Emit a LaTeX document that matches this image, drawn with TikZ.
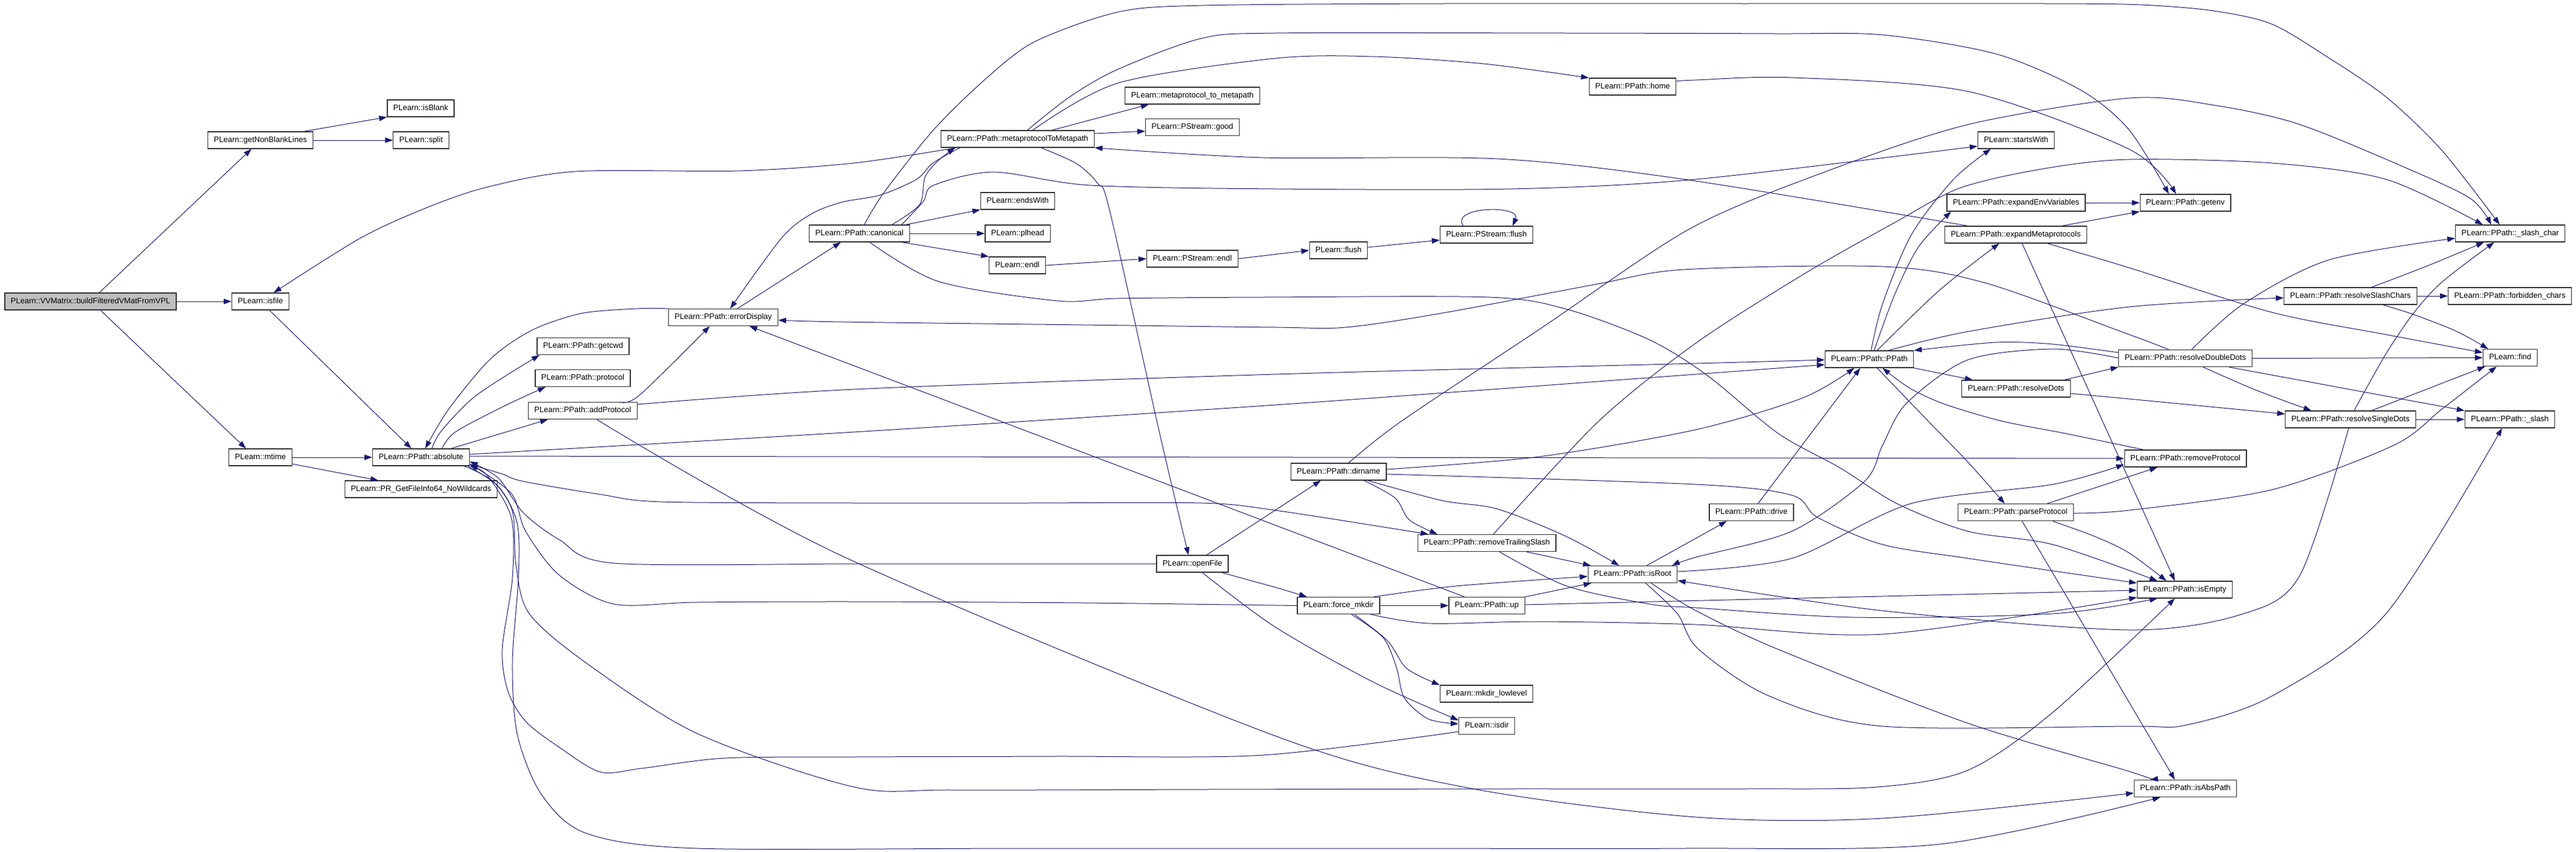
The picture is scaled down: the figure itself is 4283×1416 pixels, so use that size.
\documentclass[tikz,border=0pt]{standalone}
\usepackage{fontspec}
\setmainfont{Liberation Sans}
\usetikzlibrary{arrows.meta}
\definecolor{callblue}{HTML}{191970}
\definecolor{rootgray}{HTML}{BFBFBF}
\begin{document}
\begin{tikzpicture}[
    x=1pt, y=-1pt,
    fnbox/.style={
        draw=black!80, line width=1.2pt, fill=white,
        minimum height=28pt, inner xsep=10pt, inner ysep=0pt,
        text height=9.5pt, text depth=2.6pt,
        font=\fontsize{13}{15}\selectfont
    },
    rootbox/.style={fnbox, fill=rootgray},
    callarrow/.style={
        draw=callblue, line width=1pt,
        -{Triangle[length=13pt,width=9pt]}
    },
    curvy/.style={smooth, tension=0.5}
]
\useasboundingbox (0,0) rectangle (4283,1416);

\node[rootbox] (root) at (150.5,501) {PLearn::VVMatrix::buildFilteredVMatFromVPL};
\node[fnbox] (nonblank) at (433,233) {PLearn::getNonBlankLines};
\node[fnbox] (isblank) at (699.5,180) {PLearn::isBlank};
\node[fnbox] (split) at (700,233) {PLearn::split};
\node[fnbox] (isfile) at (433,501) {PLearn::isfile};
\node[fnbox] (mtime) at (433,760) {PLearn::mtime};
\node[fnbox] (absolute) at (700,760) {PLearn::PPath::absolute};
\node[fnbox] (fileinfo) at (700,813) {PLearn::PR\_GetFileInfo64\_NoWildcards};
\node[fnbox] (getcwd) at (969.5,575.5) {PLearn::PPath::getcwd};
\node[fnbox] (protocol) at (969,628.5) {PLearn::PPath::protocol};
\node[fnbox] (addprot) at (969,682.5) {PLearn::PPath::addProtocol};
\node[fnbox] (errdisp) at (1202.5,527.5) {PLearn::PPath::errorDisplay};
\node[fnbox] (canonical) at (1429,388) {PLearn::PPath::canonical};
\node[fnbox] (metatopath) at (1692,231) {PLearn::PPath::metaprotocolToMetapath};
\node[fnbox] (mptomp) at (1982.5,159) {PLearn::metaprotocol\_to\_metapath};
\node[fnbox] (good) at (1982.5,211.5) {PLearn::PStream::good};
\node[fnbox] (endswith) at (1692,334) {PLearn::endsWith};
\node[fnbox] (plhead) at (1692,388) {PLearn::plhead};
\node[fnbox] (endl) at (1691.5,441) {PLearn::endl};
\node[fnbox] (psendl) at (1982.5,430) {PLearn::PStream::endl};
\node[fnbox] (openfile) at (1982.5,937) {PLearn::openFile};
\node[fnbox] (home) at (2714.5,144) {PLearn::PPath::home};
\node[fnbox] (flush) at (2225.5,416) {PLearn::flush};
\node[fnbox] (psflush) at (2471.5,390) {PLearn::PStream::flush};
\node[fnbox] (dirname) at (2225.5,784) {PLearn::PPath::dirname};
\node[fnbox] (trailslash) at (2472,902.5) {PLearn::PPath::removeTrailingSlash};
\node[fnbox] (isroot) at (2714.5,954.5) {PLearn::PPath::isRoot};
\node[fnbox] (forcemkdir) at (2225.5,1006.5) {PLearn::force\_mkdir};
\node[fnbox] (up) at (2472,1006.5) {PLearn::PPath::up};
\node[fnbox] (mkdirll) at (2471.5,1153) {PLearn::mkdir\_lowlevel};
\node[fnbox] (isdir) at (2472,1206.5) {PLearn::isdir};
\node[fnbox] (startswith) at (3352,233) {PLearn::startsWith};
\node[fnbox] (expenv) at (3352,337) {PLearn::PPath::expandEnvVariables};
\node[fnbox] (expmeta) at (3351.5,390) {PLearn::PPath::expandMetaprotocols};
\node[fnbox] (ppath) at (3108,597) {PLearn::PPath::PPath};
\node[fnbox] (resdots) at (3352,646) {PLearn::PPath::resolveDots};
\node[fnbox] (drive) at (2912,851.5) {PLearn::PPath::drive};
\node[fnbox] (parseprot) at (3351.5,851.5) {PLearn::PPath::parseProtocol};
\node[fnbox] (remprot) at (3633.5,762) {PLearn::PPath::removeProtocol};
\node[fnbox] (getenv) at (3633.5,337) {PLearn::PPath::getenv};
\node[fnbox] (slashchar) at (4173.5,388) {PLearn::PPath::\_slash\_char};
\node[fnbox] (resslash) at (3908,492) {PLearn::PPath::resolveSlashChars};
\node[fnbox] (forbidden) at (4173,492) {PLearn::PPath::forbidden\_chars};
\node[fnbox] (resdd) at (3633.5,595.5) {PLearn::PPath::resolveDoubleDots};
\node[fnbox] (find) at (4173.5,594.5) {PLearn::find};
\node[fnbox] (ressd) at (3908,697) {PLearn::PPath::resolveSingleDots};
\node[fnbox] (slash) at (4173,697) {PLearn::PPath::\_slash};
\node[fnbox] (isempty) at (3632.5,980) {PLearn::PPath::isEmpty};
\node[fnbox] (isabs) at (3633.5,1310.5) {PLearn::PPath::isAbsPath};

\draw[callarrow] (165,0 |- root.north) -- (418,0 |- nonblank.south);
\draw[callarrow] (root.east) -- (isfile.west);
\draw[callarrow] (167,0 |- root.south) -- (409,0 |- mtime.north);
\draw[callarrow] (505,0 |- nonblank.north) -- (isblank.south west);
\draw[callarrow] (nonblank.east) -- (split.west);
\draw[callarrow] (448,0 |- isfile.south) -- (684,0 |- absolute.north);
\draw[callarrow] (mtime.east) -- (absolute.west);
\draw[callarrow] (mtime.east |- 0,771) -- (629,0 |- fileinfo.north);

\draw[callarrow] plot[curvy] coordinates {(718,0 |- absolute.north) (734,716) (792,657) (897,0 |- getcwd.south)};
\draw[callarrow] plot[curvy] coordinates {(735,0 |- absolute.north) (757,718) (838,675) (907,0 |- protocol.south)};
\draw[callarrow] (750,0 |- absolute.north) -- (911,0 |- addprot.south);
\draw[callarrow] plot[curvy] coordinates {(absolute.east |- 0,755) (1420,718) (2120,673) (2820,622) (ppath.west |- 0,606)};
\draw[callarrow] (absolute.east |- 0,758) -- (remprot.west |- 0,762);
\draw[callarrow] plot[curvy] coordinates {(absolute.east |- 0,772) (833,787) (870,800) (1000,822) (1099,834) (1420,836) (1700,836) (1997,836) (2120,848) (2375,0 |- trailslash.north)};
\draw[callarrow] plot[curvy] coordinates {(778,0 |- absolute.south) (830,810) (860,870) (862,960) (852,1100) (860,1220) (900,1320) (975,1385) (1159,1410) (1700,1410) (2300,1410) (2800,1410) (3225,1403) (3592,0 |- isabs.south)};
\draw[callarrow] plot[curvy] coordinates {(772,0 |- absolute.south) (820,800) (852,850) (858,940) (880,1020) (975,1102) (1159,1219) (1420,1308) (1584,1313) (2000,1312) (2500,1311) (2900,1311) (3121,1308) (3272,1280) (3413,1184) (3616,0 |- isempty.south)};

\draw[callarrow] plot[curvy] coordinates {(isdir.west |- 0,1216) (2100,1255) (1750,1257) (1420,1258) (1205,1260) (1067,1277) (998,1283) (930,1242) (875,1200) (845,1150) (835,1080) (852,960) (850,860) (810,790) (absolute.south east)};
\draw[callarrow] plot[curvy] coordinates {(openfile.west) (1650,937) (1420,937) (1021,936) (930,897) (870,852) (829,795) (absolute.east |- 0,767)};
\draw[callarrow] plot[curvy] coordinates {(forcemkdir.west) (1800,1002) (1420,1000) (1159,1001) (1021,1004) (930,956) (874,883) (850,820) (absolute.east |- 0,771)};
\draw[callarrow] plot[curvy] coordinates {(errdisp.north west) (1058,513) (966,521) (884,549) (815,597) (746,680) (707,0 |- absolute.north)};

\draw[callarrow] plot[curvy] coordinates {(1590,0 |- metatopath.south) (1420,271) (1228,284) (957,285) (806,312) (700,349) (597,397) (455,0 |- isfile.north)};
\draw[callarrow] plot[curvy] coordinates {(1030,0 |- addprot.north) (1063,657) (1180,0 |- errdisp.south)};
\draw[callarrow] plot[curvy] coordinates {(addprot.east |- 0,672) (1420,647) (2120,622) (2820,604) (ppath.west |- 0,598)};
\draw[callarrow] plot[curvy] coordinates {(992,0 |- addprot.south) (1400,924) (2120,1223) (2444,1310) (2820,1358) (3130,1360) (isabs.west |- 0,1318)};
\draw[callarrow] (1226,0 |- errdisp.north) -- (1398,0 |- canonical.south);
\draw[callarrow] plot[curvy] coordinates {(1596,0 |- metatopath.south) (1551,271) (1524,298) (1464,324) (1400,336) (1350,355) (1300,395) (1214,0 |- errdisp.north)};
\draw[callarrow] (2435,0 |- up.north) -- (1246,0 |- errdisp.south);
\draw[callarrow] plot[curvy] coordinates {(3606,0 |- resdd.north) (3540,556) (3300,470) (3130,443) (2800,448) (2651,473) (2400,520) (2238,544) (2120,544) (1800,540) (1400,535) (errdisp.east |- 0,532)};

\draw[callarrow] plot[curvy] coordinates {(1483,0 |- canonical.north) (1529,340) (1538,294) (1561,266) (1588,0 |- metatopath.south)};
\draw[callarrow] plot[curvy] coordinates {(1499,0 |- canonical.north) (1535,335) (1552,308) (1652,286) (1813,308) (2120,314) (2513,314) (2820,298) (startswith.west |- 0,243)};
\draw[callarrow] (1506,0 |- canonical.north) -- (endswith.south west);
\draw[callarrow] (canonical.east) -- (plhead.west);
\draw[callarrow] (1499,0 |- canonical.south) -- (endl.north west);
\draw[callarrow] plot[curvy] coordinates {(1437,0 |- canonical.north) (1469,321) (1552,216) (1640,130) (1721,69) (1859,20) (2000,9) (2400,6) (2900,6) (3400,6) (3560,8) (3680,18) (3777,40) (3870,95) (3967,161) (4060,250) (4156,0 |- slashchar.north)};
\draw[callarrow] plot[curvy] coordinates {(1446,0 |- canonical.south) (1561,468) (1758,500) (1859,496) (2100,494) (2476,494) (2605,514) (2743,565) (2840,625) (2956,720) (3060,778) (3154,837) (3272,883) (3413,905) (3587,0 |- isempty.north)};
\draw[callarrow] (endl.east) -- (psendl.west);
\draw[callarrow] (psendl.east) -- (flush.west);
\draw[callarrow] (flush.east |- 0,411) -- (psflush.west |- 0,399);
\draw[callarrow] (2433,0 |- psflush.north) .. controls (2410,343) and (2530,340) .. (2515,0 |- psflush.north);

\draw[callarrow] (1749,0 |- metatopath.north) -- (1910,0 |- mptomp.south);
\draw[callarrow] (metatopath.east |- 0,222) -- (good.west |- 0,218);
\draw[callarrow] plot[curvy] coordinates {(1731,0 |- metatopath.south) (1790,272) (1825,305) (1845,350) (1928,720) (1976,0 |- openfile.north)};
\draw[callarrow] plot[curvy] coordinates {(1708,0 |- metatopath.north) (1780,160) (1859,115) (1997,64) (2120,55) (2600,55) (2950,56) (3130,58) (3320,90) (3460,150) (3540,216) (3606,0 |- getenv.north)};
\draw[callarrow] plot[curvy] coordinates {(1717,0 |- metatopath.north) (1859,138) (2120,97) (2284,94) (2467,106) (home.north west)};
\draw[callarrow] plot[curvy] coordinates {(home.east |- 0,135) (2820,133) (2979,129) (3272,152) (3540,248) (3618,0 |- getenv.north)};
\draw[callarrow] (expenv.east) -- (getenv.west);
\draw[callarrow] (3428,0 |- expmeta.north) -- (getenv.south west);
\draw[callarrow] plot[curvy] coordinates {(3272,0 |- expmeta.north) (2800,298) (2490,264) (2100,262) (metatopath.south east)};
\draw[callarrow] plot[curvy] coordinates {(3404,0 |- expmeta.south) (3540,445) (3777,519) (3967,556) (find.west |- 0,586)};
\draw[callarrow] (3362,0 |- expmeta.south) -- (3616,0 |- isempty.north);

\draw[callarrow] plot[curvy] coordinates {(3111,0 |- ppath.north) (3130,505) (3178,390) (3248,298) (3310,0 |- startswith.south)};
\draw[callarrow] plot[curvy] coordinates {(3116,0 |- ppath.north) (3150,490) (3190,410) (3244,0 |- expenv.south)};
\draw[callarrow] plot[curvy] coordinates {(3121,0 |- ppath.north) (3225,482) (3324,0 |- expmeta.south)};
\draw[callarrow] plot[curvy] coordinates {(3140,0 |- ppath.north) (3272,551) (3540,510) (resslash.west |- 0,495)};
\draw[callarrow] plot[curvy] coordinates {(3121,0 |- ppath.south) (3206,700) (3272,768) (3333,0 |- parseprot.north)};
\draw[callarrow] (ppath.south east) -- (3280,0 |- resdots.north);

\draw[callarrow] plot[curvy] coordinates {(resdd.west |- 0,586) (3413,572) (3319,569) (ppath.north east)};
\draw[callarrow] plot[curvy] coordinates {(resdd.west |- 0,595) (3413,580) (3272,598) (3170,670) (3130,740) (3100,800) (2979,883) (2820,926) (2780,0 |- isroot.north)};
\draw[callarrow] plot[curvy] coordinates {(3644,0 |- resdd.north) (3730,505) (3872,432) (slashchar.west |- 0,396)};
\draw[callarrow] (resdd.east) -- (find.west);
\draw[callarrow] plot[curvy] coordinates {(3663,0 |- resdd.south) (3750,648) (3843,0 |- ressd.north)};
\draw[callarrow] (3706,0 |- resdd.south) -- (slash.north west);
\draw[callarrow] (3432,0 |- resdots.north) -- (resdd.south west);
\draw[callarrow] plot[curvy] coordinates {(resdots.east |- 0,654) (3540,663) (ressd.west |- 0,688)};
\draw[callarrow] plot[curvy] coordinates {(3943,0 |- resslash.north) (4038,441) (4130,0 |- slashchar.south)};
\draw[callarrow] (resslash.east) -- (forbidden.west);
\draw[callarrow] plot[curvy] coordinates {(3962,0 |- resslash.south) (4014,523) (4085,551) (4137,0 |- find.north)};
\draw[callarrow] plot[curvy] coordinates {(3914,0 |- ressd.north) (3967,588) (4014,519) (4061,468) (4147,0 |- slashchar.south)};
\draw[callarrow] (3943,0 |- ressd.north) -- (4132,0 |- find.south);
\draw[callarrow] (ressd.east) -- (slash.west);
\draw[callarrow] plot[curvy] coordinates {(3905,0 |- ressd.south) (3824,956) (3730,1020) (3540,1047) (3130,1015) (isroot.east |- 0,965)};

\draw[callarrow] plot[curvy] coordinates {(parseprot.east |- 0,853) (3540,848) (3777,814) (3980,740) (4060,680) (4151,0 |- find.south)};
\draw[callarrow] (3404,0 |- parseprot.north) -- (3587,0 |- remprot.south);
\draw[callarrow] plot[curvy] coordinates {(3413,0 |- parseprot.south) (3484,892) (3540,919) (3602,0 |- isempty.north)};
\draw[callarrow] (3362,0 |- parseprot.south) -- (3616,0 |- isabs.north);
\draw[callarrow] plot[curvy] coordinates {(3564,0 |- remprot.north) (3432,720) (3329,700) (3234,672) (3175,645) (3130,0 |- ppath.south)};
\draw[callarrow] (2923,0 |- drive.north) -- (3093,0 |- ppath.south);
\draw[callarrow] plot[curvy] coordinates {(dirname.east |- 0,780) (2559,759) (2820,714) (2998,661) (3083,0 |- ppath.south)};

\draw[callarrow] (2738,0 |- isroot.north) -- (2871,0 |- drive.south);
\draw[callarrow] plot[curvy] coordinates {(isroot.east |- 0,950) (2979,928) (3177,837) (3413,805) (remprot.west |- 0,772)};
\draw[callarrow] plot[curvy] coordinates {(2736,0 |- isroot.south) (2789,1020) (2824,1079) (2942,1157) (3130,1207) (3540,1207) (3635,1205) (3777,1157) (3967,1020) (4160,0 |- slash.south)};
\draw[callarrow] plot[curvy] coordinates {(2745,0 |- isroot.south) (2820,1015) (2956,1079) (3272,1202) (3540,1282) (3575,0 |- isabs.north)};

\draw[callarrow] plot[curvy] coordinates {(2274,0 |- dirname.south) (2398,832) (2490,846) (2605,892) (2692,0 |- isroot.north)};
\draw[callarrow] plot[curvy] coordinates {(2268,0 |- dirname.south) (2320,828) (2343,864) (2390,0 |- trailslash.north)};
\draw[callarrow] plot[curvy] coordinates {(2242,0 |- dirname.north) (2330,700) (2560,547) (2810,380) (3036,285) (3272,207) (3540,163) (3682,175) (3824,207) (4014,285) (4109,331) (4142,0 |- slashchar.north)};
\draw[callarrow] plot[curvy] coordinates {(dirname.east |- 0,788) (2820,805) (2979,823) (3022,860) (3130,905) (3272,928) (isempty.west |- 0,969)};

\draw[callarrow] (2538,0 |- trailslash.south) -- (2645,0 |- isroot.north);
\draw[callarrow] plot[curvy] coordinates {(2483,0 |- trailslash.north) (2658,700) (2820,570) (3000,455) (3150,370) (3260,312) (3400,280) (3540,265) (3777,271) (3967,298) (4128,0 |- slashchar.north)};
\draw[callarrow] plot[curvy] coordinates {(2493,0 |- trailslash.south) (2605,974) (2743,1004) (2820,1010) (3083,1026) (3413,1020) (3587,0 |- isempty.south)};

\draw[callarrow] (up.east |- 0,1005) -- (isempty.west |- 0,981);
\draw[callarrow] (up.north east) -- (2646,0 |- isroot.south);
\draw[callarrow] plot[curvy] coordinates {(2279,0 |- forcemkdir.south) (2375,1036) (2559,1033) (2820,1038) (3130,1054) (isempty.west |- 0,993)};
\draw[callarrow] plot[curvy] coordinates {(2284,0 |- forcemkdir.north) (2421,974) (isroot.west |- 0,958)};
\draw[callarrow] (forcemkdir.east) -- (up.west);
\draw[callarrow] plot[curvy] coordinates {(2252,0 |- forcemkdir.south) (2307,1065) (2339,1111) (mkdirll.north west)};
\draw[callarrow] plot[curvy] coordinates {(2247,0 |- forcemkdir.south) (2300,1060) (2322,1110) (2335,1160) (2375,1195) (isdir.west |- 0,1203)};

\draw[callarrow] (2006,0 |- openfile.north) -- (2196,0 |- dirname.south);
\draw[callarrow] plot[curvy] coordinates {(2031,0 |- openfile.south) (2120,976) (2173,0 |- forcemkdir.north)};
\draw[callarrow] plot[curvy] coordinates {(1999,0 |- openfile.south) (2120,1042) (2284,1134) (isdir.west |- 0,1197)};
\end{tikzpicture}
\end{document}
